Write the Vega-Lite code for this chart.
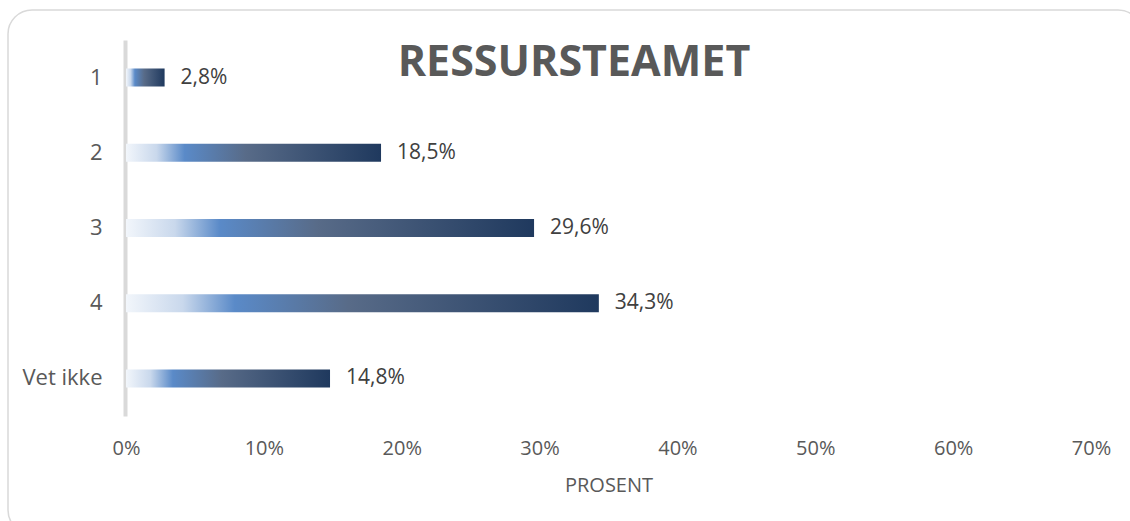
{
  "$schema": "https://vega.github.io/schema/vega-lite/v6.json",
  "width": 1134,
  "height": 524,
  "autosize": {"type": "none"},
  "padding": {"left": 8, "top": 10, "right": -12, "bottom": -13},
  "background": "white",
  "config": {
    "locale": {"number": {"decimal": ",", "thousands": " ", "grouping": [3], "currency": ["", " kr"]}},
    "view": {"stroke": "#d9d9d9", "strokeWidth": 1.5, "cornerRadius": 24},
    "font": "Open Sans"
  },
  "title": {
    "text": "RESSURSTEAMET",
    "font": "Open Sans",
    "fontSize": 43,
    "fontWeight": "bold",
    "color": "#595959",
    "anchor": "middle",
    "frame": "group",
    "baseline": "alphabetic",
    "offset": -109,
    "dx": -1
  },
  "data": {
    "values": [
      {"category": "1", "value": 0.028},
      {"category": "2", "value": 0.185},
      {"category": "3", "value": 0.296},
      {"category": "4", "value": 0.343},
      {"category": "Vet ikke", "value": 0.148}
    ]
  },
  "encoding": {
    "y": {
      "field": "category",
      "type": "nominal",
      "sort": null,
      "title": null,
      "scale": {"range": [30, 406]},
      "axis": {
        "offset": -117,
        "domainColor": "#d9d9d9",
        "domainWidth": 4,
        "ticks": false,
        "labelPadding": 23,
        "labelFontSize": 22,
        "labelColor": "#595959",
        "labelFont": "Open Sans"
      }
    },
    "x": {
      "field": "value",
      "type": "quantitative",
      "scale": {"domain": [0, 0.7], "nice": false, "range": [118, 1083]},
      "title": "PROSENT",
      "axis": {
        "offset": -118,
        "format": ".0%",
        "values": [0, 0.1, 0.2, 0.3, 0.4, 0.5, 0.6, 0.7],
        "domain": false,
        "ticks": false,
        "grid": false,
        "labelFlush": false,
        "labelPadding": 22,
        "labelFontSize": 20,
        "labelColor": "#595959",
        "labelFont": "Open Sans",
        "titleFontSize": 20,
        "titleFontWeight": "normal",
        "titleColor": "#595959",
        "titleFont": "Open Sans",
        "titlePadding": 17
      }
    }
  },
  "layer": [
    {
      "mark": {
        "type": "bar",
        "height": 18,
        "color": {
          "gradient": "linear",
          "x1": 0, "y1": 0, "x2": 1, "y2": 0,
          "stops": [
            {"offset": 0, "color": "#f2f6fb"},
            {"offset": 0.12, "color": "#c9d8ec"},
            {"offset": 0.23, "color": "#5a8ac8"},
            {"offset": 0.47, "color": "#586b88"},
            {"offset": 1, "color": "#1f395e"}
          ]
        }
      }
    },
    {
      "mark": {"type": "text", "align": "left", "baseline": "middle", "dx": 16, "fontSize": 21, "color": "#404040", "font": "Open Sans"},
      "encoding": {
        "text": {"field": "value", "type": "quantitative", "format": ".1%"}
      }
    }
  ]
}
